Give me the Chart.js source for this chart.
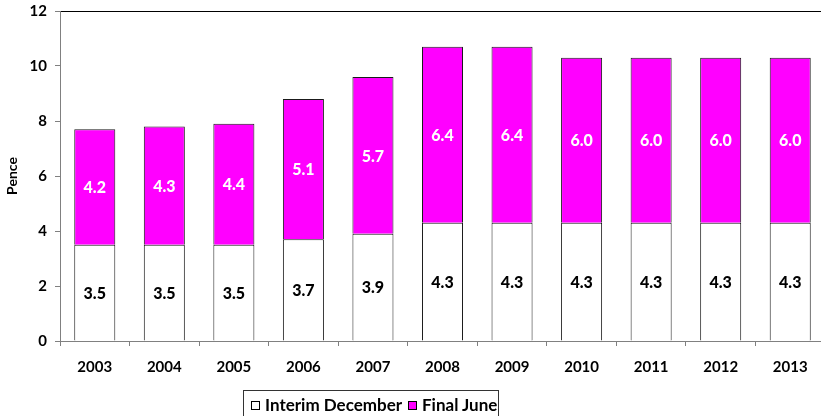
<!DOCTYPE html>
<html>
<head>
<meta charset="utf-8">
<script src="https://cdn.jsdelivr.net/npm/chart.js@4/dist/chart.umd.min.js"></script>
<style>
  html, body { margin: 0; padding: 0; overflow: hidden; background: #fff; width: 821px; height: 416px; }
  #wrap { position: relative; width: 825px; height: 416px; overflow: hidden; }
  #c { position: absolute; left: 0; top: -6px; }
  #legend { position: absolute; left: 243px; top: 390px; width: 256px; height: 32px; border: 1px solid #333;
    font-family: Lato, sans-serif; font-weight: 700; font-size: 17px; color: #000; box-sizing: border-box; }
  .item { position: absolute; top: 4px; line-height: 20px; white-space: nowrap; }
  .sw { display: inline-block; width: 7px; height: 7px; border: 1px solid #000; vertical-align: 1px; margin-right: 5px; }
</style>
</head>
<body>
<div id="wrap">
  <canvas id="c" width="825" height="422"></canvas>
  <div id="legend">
    <span class="item" style="left:7px"><span class="sw" style="background:#fff"></span>Interim December</span>
    <span class="item" style="left:164px"><span class="sw" style="background:#ff00ff"></span>Final June</span>
  </div>
</div>
<script>
const years = ['2003','2004','2005','2006','2007','2008','2009','2010','2011','2012','2013'];
const interimDecember = [3.5,3.5,3.5,3.7,3.9,4.3,4.3,4.3,4.3,4.3,4.3];
const finalJune = [4.2,4.3,4.4,5.1,5.7,6.4,6.4,6.0,6.0,6.0,6.0];
const yTicks = [0,2,4,6,8,10,12];

const FONT = 'Lato, sans-serif';

const labelPlugin = {
  id: 'barLabels',
  afterDatasetsDraw(chart) {
    const ctx = chart.ctx;
    ctx.save();
    ctx.font = '900 16px Lato, sans-serif';
    ctx.textAlign = 'center';
    ctx.textBaseline = 'middle';
    chart.data.datasets.forEach((ds, i) => {
      const meta = chart.getDatasetMeta(i);
      meta.data.forEach((el, j) => {
        const p = el.getCenterPoint();
        ctx.fillStyle = ds.labelColor;
        ctx.fillText(ds.data[j].toFixed(1), p.x, p.y + 1);
      });
    });
    ctx.restore();
  }
};

new Chart(document.getElementById('c'), {
  type: 'bar',
  data: {
    labels: years,
    datasets: [
      { label: 'Interim December', data: interimDecember, backgroundColor: '#ffffff', borderColor: '#1a1a1a', borderWidth: 1, labelColor: '#000000' },
      { label: 'Final June', data: finalJune, backgroundColor: '#ff00ff', borderColor: '#1a1a1a', borderWidth: 1, labelColor: '#ffffff' }
    ]
  },
  options: {
    responsive: false,
    animation: false,
    layout: { padding: { top: 2, right: 0, bottom: 0, left: 0 } },
    plugins: { legend: { display: false }, tooltip: { enabled: false } },
    datasets: { bar: { categoryPercentage: 1, barPercentage: 0.59 } },
    scales: {
      x: {
        stacked: true,
        grid: { offset: true, drawOnChartArea: false, drawTicks: true, tickLength: 5, tickColor: '#808080' },
        border: { color: '#808080', width: 1 },
        ticks: { color: '#000', font: { family: FONT, size: 15, weight: 'bold' }, padding: 12, maxRotation: 0 },
        afterFit(s) { s.height = 75; }
      },
      y: {
        stacked: true,
        min: 0, max: 12,
        afterBuildTicks(s) { s.ticks = yTicks.map(v => ({ value: v })); },
        grid: {
          drawOnChartArea: true,
          color: c => (c.tick && c.tick.value === 12) ? '#000' : 'rgba(0,0,0,0)',
          tickColor: '#808080', tickLength: 5
        },
        border: { color: '#808080', width: 1 },
        ticks: { color: '#000', font: { family: FONT, size: 15, weight: 'bold' }, padding: 8 },
        title: { display: true, text: 'Pence', color: '#000', font: { family: FONT, size: 14, weight: 'bold' }, padding: { top: 4, bottom: 0 } },
        afterFit(s) { s.width = 60; }
      }
    }
  },
  plugins: [labelPlugin]
});
</script>
</body>
</html>
